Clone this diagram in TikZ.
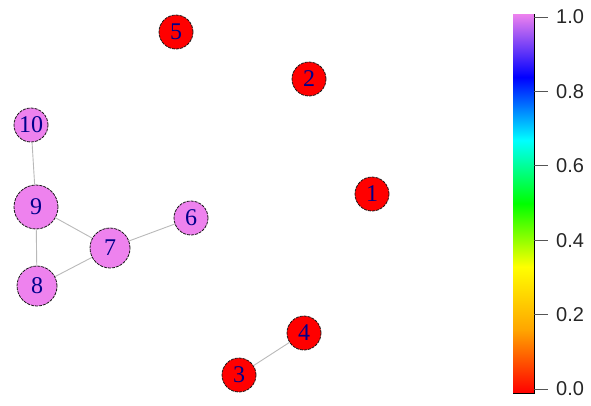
\documentclass[tikz,border=0pt]{standalone}
\usepackage{fontspec}
\setmainfont{Liberation Serif}
\newfontfamily\barfont{Liberation Sans}
\definecolor{vred}{RGB}{255,0,0}
\definecolor{vviolet}{RGB}{238,130,238}
\definecolor{labblue}{RGB}{0,0,139}
\definecolor{edgegray}{RGB}{185,185,185}
\definecolor{barorange}{RGB}{255,165,0}
\definecolor{baryellow}{RGB}{255,255,0}
\definecolor{bargreen}{RGB}{0,255,0}
\definecolor{barcyan}{RGB}{0,255,255}
\definecolor{barblue}{RGB}{0,0,255}
\definecolor{tickgray}{RGB}{85,85,85}
\pgfdeclareverticalshading{rainbowbar}{100bp}{%
  color(0bp)=(vred); color(25bp)=(vred);
  color(33.333bp)=(barorange); color(41.667bp)=(baryellow);
  color(50bp)=(bargreen); color(58.333bp)=(barcyan);
  color(66.667bp)=(barblue); color(75bp)=(vviolet);
  color(100bp)=(vviolet)}
\tikzset{
  vtx/.style={circle, inner sep=0pt, draw=black!90, line width=0.8pt,
    dash pattern=on 3pt off 1pt, text=labblue,
    font=\fontsize{24}{24}\selectfont},
  small/.style={vtx, minimum size=34pt},
  mid/.style={vtx, minimum size=40pt},
  big/.style={vtx, minimum size=44pt},
  lnk/.style={draw=edgegray, line width=0.9pt},
  tick/.style={draw=tickgray, line width=1pt},
  ticklab/.style={anchor=west, inner sep=0pt, font=\barfont\fontsize{20}{20}\selectfont, text=black!85}
}
\begin{document}
\begin{tikzpicture}[x=1pt, y=-1pt]
  \useasboundingbox (0,0) rectangle (591,405);
  % vertices
  \node[small, fill=vred] (n5) at (176,32) {5};
  \node[small, fill=vred] (n2) at (309,79) {2};
  \node[small, fill=vred] (n1) at (372,194) {1};
  \node[small, fill=vred] (n4) at (304,333) {4};
  \node[small, fill=vred] (n3) at (239,375) {3};
  \node[small, fill=vviolet] (n10) at (31,125) {10};
  \node[big, fill=vviolet] (n9) at (36,207) {9};
  \node[small, fill=vviolet] (n6) at (191,218) {6};
  \node[mid, fill=vviolet] (n7) at (110,248) {7};
  \node[mid, fill=vviolet] (n8) at (37,286) {8};
  % edges
  \draw[lnk] (n10) -- (n9);
  \draw[lnk] (n9) -- (n8);
  \draw[lnk] (n9) -- (n7);
  \draw[lnk] (n8) -- (n7);
  \draw[lnk] (n7) -- (n6);
  \draw[lnk] (n3) -- (n4);
  % colour bar
  \shade[shading=rainbowbar] (513,393) rectangle (534,14);
  \draw[black, line width=1pt] (513,393) -- (534,393) -- (534,14);
  \foreach \v/\lab in {0/0.0, 1/0.2, 2/0.4, 3/0.6, 4/0.8, 5/1.0}{
    \draw[tick] (534,{389-74.4*\v}) -- (548,{389-74.4*\v});
    \node[ticklab] at (556,{389-74.4*\v}) {\lab};
  }
\end{tikzpicture}
\end{document}
